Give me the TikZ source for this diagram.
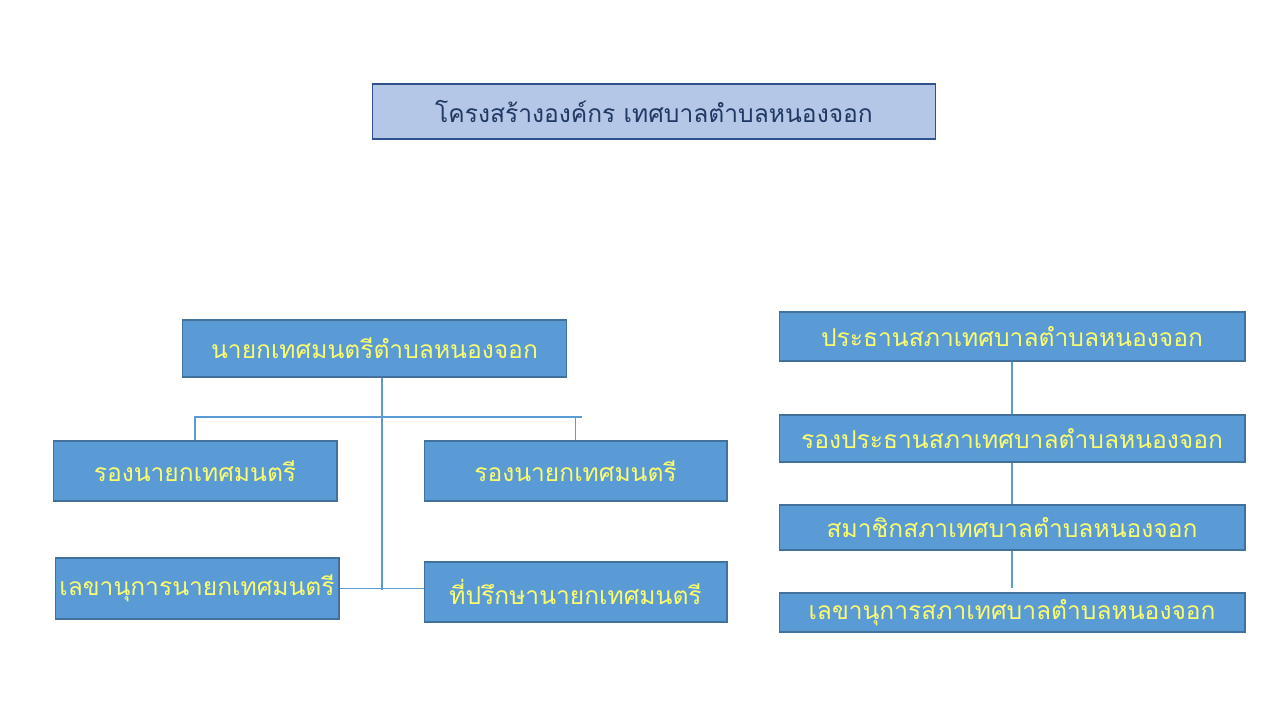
\documentclass[tikz,border=0pt]{standalone}
\usepackage{fontspec}
\newfontfamily\thaifont[Script=Thai]{Loma}
\definecolor{boxfill}{RGB}{91,155,213}
\definecolor{boxline}{RGB}{65,113,156}
\definecolor{headfill}{RGB}{180,199,231}
\definecolor{headline}{RGB}{47,82,143}
\definecolor{headtext}{RGB}{32,56,100}
\definecolor{labeltext}{RGB}{250,252,110}
\definecolor{linkcol}{RGB}{91,155,213}
\tikzset{
  unit/.style={draw=boxline, fill=boxfill, line width=0.6pt, text=labeltext,
    font=\thaifont\fontsize{14}{16}\selectfont, inner sep=0pt},
  headbox/.style={draw=headline, fill=headfill, line width=0.6pt, text=headtext,
    font=\thaifont\fontsize{14}{16}\selectfont, inner sep=0pt},
  link/.style={draw=linkcol, line width=0.6pt}
}

\begin{document}
\begin{tikzpicture}[x=0.02cm, y=-0.02cm]
\useasboundingbox[fill=white] (0,0) rectangle (1280,720);
% title
\node[headbox, minimum width=11.28cm, minimum height=1.10cm] (title) at (654,111.5)
  {โครงสร้างองค์กร เทศบาลตำบลหนองจอก};
% executive side
\node[unit, minimum width=7.70cm, minimum height=1.14cm] (mayor) at (374.5,348.5) {นายกเทศมนตรีตำบลหนองจอก};
\node[unit, minimum width=5.68cm, minimum height=1.20cm] (depL) at (195,471) {รองนายกเทศมนตรี};
\node[unit, minimum width=6.06cm, minimum height=1.20cm] (depR) at (575.5,471) {รองนายกเทศมนตรี};
\node[unit, minimum width=5.68cm, minimum height=1.22cm] (secL) at (197,588.5) {เลขานุการนายกเทศมนตรี};
\node[unit, minimum width=6.06cm, minimum height=1.20cm] (adv) at (575.5,592) {ที่ปรึกษานายกเทศมนตรี};
% council side
\foreach \nm/\yy/\hh/\txt in {
  chair/336.5/0.98/ประธานสภาเทศบาลตำบลหนองจอก,
  vice/438.5/0.94/รองประธานสภาเทศบาลตำบลหนองจอก,
  member/527.5/0.90/สมาชิกสภาเทศบาลตำบลหนองจอก,
  csec/612.5/0.78/เลขานุการสภาเทศบาลตำบลหนองจอก%
} {
  \node[unit, minimum width=9.32cm, minimum height=\hh cm] (\nm) at (1012,\yy) {\txt};
}
% connectors
\coordinate (hub) at (382,590);
\coordinate (bar) at (382,417);
\coordinate (barend) at (582,417);
\coordinate (gap) at (1012,588);
\draw[link] (mayor.south -| hub) -- (hub);
\draw[link] (depL.north) -- (depL.north |- bar) -- (barend);
\draw[link] (depR.north) -- (depR.north |- bar);
\draw[link] (secL.east) -- (secL.east -| adv.west);
\draw[link] (chair.south) -- (vice.north);
\draw[link] (vice.south) -- (member.north);
\draw[link] (member.south) -- (gap);
\end{tikzpicture}
\end{document}
